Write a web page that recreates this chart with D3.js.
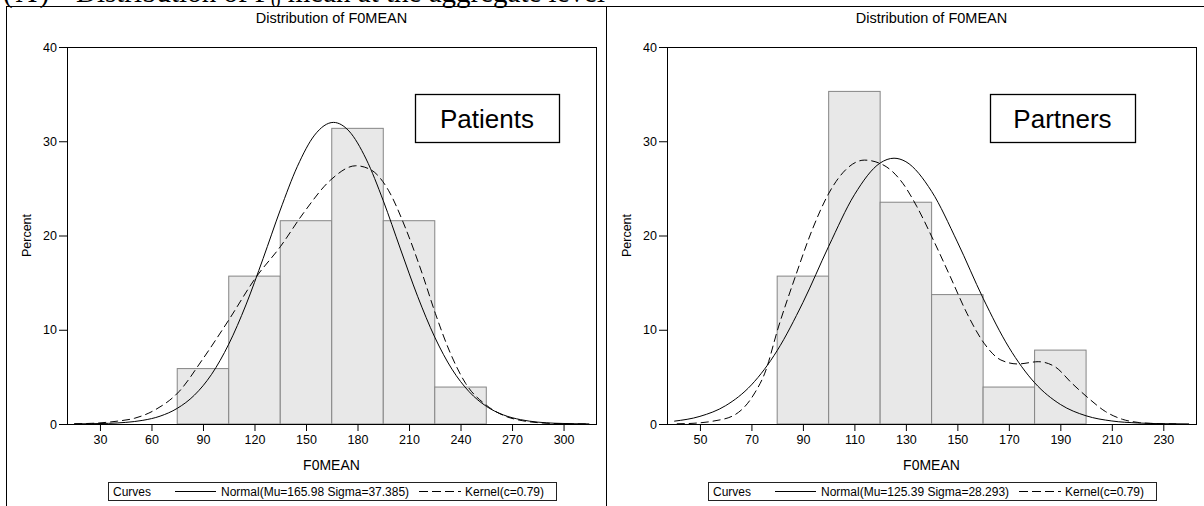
<!DOCTYPE html>
<html>
<head>
<meta charset="utf-8">
<script src="https://cdn.jsdelivr.net/npm/d3@7"></script>
<style>
  body { margin: 0; background: #fff; }
  svg { display: block; font-family: "Liberation Sans", Arial, sans-serif; }
</style>
</head>
<body>
<svg id="chart" width="1204" height="506"></svg>
<script>
// histogram bins (edges) and percent per bin
const patientEdges = [75, 105, 135, 165, 195, 225, 255];
const patientPct = [5.88, 15.69, 21.57, 31.37, 21.57, 3.92];
const partnerEdges = [80, 100, 120, 140, 160, 180, 200];
const partnerPct = [15.69, 35.29, 23.53, 13.73, 3.92, 7.84];

// fitted normal curves (solid)
const patientNormalX = [15, 25, 35, 45, 55, 65, 75, 85, 95, 105, 115, 125, 135, 145, 155, 166, 175, 185, 195, 205, 215, 225, 235, 245, 255, 265, 275, 285, 295, 305, 315];
const patientNormalY = [0.01, 0.03, 0.07, 0.17, 0.39, 0.83, 1.66, 3.06, 5.27, 8.47, 12.63, 17.55, 22.7, 27.34, 30.65, 32.0, 31.09, 28.12, 23.69, 18.57, 13.55, 9.21, 5.82, 3.43, 1.88, 0.96, 0.46, 0.2, 0.08, 0.03, 0.01];
const partnerNormalX = [40, 50, 60, 70, 80, 90, 100, 110, 120, 125.4, 130, 140, 150, 160, 170, 180, 190, 200, 210, 220, 230, 240];
const partnerNormalY = [0.3, 0.81, 1.95, 4.15, 7.79, 12.89, 18.85, 24.32, 27.69, 28.2, 27.83, 24.68, 19.32, 13.34, 8.14, 4.38, 2.08, 0.87, 0.32, 0.11, 0.03, 0.01];

// kernel density curves (dashed)
const patientKernelX = [15, 30, 40, 50, 62, 76, 89.5, 105, 121, 135, 148.6, 164.4, 179, 188, 198, 207.7, 217.6, 225.4, 233.3, 243, 255, 266.8, 276, 286.5, 300, 315];
const patientKernelY = [0.02, 0.12, 0.3, 0.6, 1.49, 3.43, 6.79, 11.03, 15.6, 18.8, 22.4, 25.9, 27.4, 26.95, 24.8, 20.9, 16.0, 11.7, 7.85, 4.3, 2.0, 0.78, 0.35, 0.12, 0.03, 0.01];
const partnerKernelX = [41, 47.7, 55, 63.4, 71.3, 75.2, 80.5, 87, 93.6, 100.1, 106.7, 113.9, 121.1, 128.9, 134.2, 140.7, 147.3, 153.8, 160.4, 166.9, 173.5, 181.4, 187.9, 194.5, 201, 207.6, 214.1, 220.7, 227, 235];
const partnerKernelY = [0.02, 0.08, 0.3, 0.95, 3.3, 5.4, 10.3, 15.6, 20.6, 24.5, 27.0, 28.0, 27.5, 25.5, 23.1, 19.5, 15.6, 11.7, 8.56, 6.79, 6.37, 6.61, 6.08, 4.32, 2.72, 1.31, 0.5, 0.15, 0.05, 0.01];

// axis ticks and labels
const patientTicks = [30, 60, 90, 120, 150, 180, 210, 240, 270, 300];
const partnerTicks = [50, 70, 90, 110, 130, 150, 170, 190, 210, 230];
const percentTicks = [0, 10, 20, 30, 40];
const titleText = 'Distribution of F0MEAN';
const xLabel = 'F0MEAN';
const yLabel = 'Percent';
const kernelLabel = 'Kernel(c=0.79)';

const panels = [
  {
    name: 'Patients', edges: patientEdges, pct: patientPct,
    nx: patientNormalX, ny: patientNormalY, kx: patientKernelX, ky: patientKernelY,
    ticks: patientTicks, domain: [10.8, 318.9],
    normalLabel: 'Normal(Mu=165.98 Sigma=37.385)',
    offset: 0, box: [415, 559]
  },
  {
    name: 'Partners', edges: partnerEdges, pct: partnerPct,
    nx: partnerNormalX, ny: partnerNormalY, kx: partnerKernelX, ky: partnerKernelY,
    ticks: partnerTicks, domain: [37.2, 242.7],
    normalLabel: 'Normal(Mu=125.39 Sigma=28.293)',
    offset: 600, box: [390, 535]
  }
];

const plot = { left: 67, right: 596, top: 47, bottom: 424 };

const svg = d3.select('#chart');

// heading of the figure, mostly cut off by the top edge as in the source
const head = svg.append('text')
  .attr('y', 2)
  .attr('font-family', '"Liberation Serif", "Times New Roman", serif')
  .attr('font-size', 29)
  .attr('fill', '#000');
head.append('tspan').attr('x', 3).attr('letter-spacing', 3).text('(A)');
head.append('tspan').attr('x', 76).text('Distribution of F');
head.append('tspan').attr('font-size', 19).attr('dy', 5).text('0');
head.append('tspan').attr('dy', -5).text(' mean at the aggregate level');

// outer frame lines
svg.append('line').attr('x1', 6).attr('x2', 1204).attr('y1', 6.5).attr('y2', 6.5).attr('stroke', '#000');
svg.append('line').attr('x1', 6.5).attr('x2', 6.5).attr('y1', 6).attr('y2', 506).attr('stroke', '#000');
svg.append('line').attr('x1', 606.5).attr('x2', 606.5).attr('y1', 6).attr('y2', 506).attr('stroke', '#000');

panels.forEach((p) => {
  const g = svg.append('g').attr('transform', `translate(${p.offset},0)`);

  const x = d3.scaleLinear().domain(p.domain).range([plot.left, plot.right]);
  const y = d3.scaleLinear().domain([0, 40]).range([plot.bottom, plot.top]);

  // bars
  const bins = p.pct.map((v, i) => ({ x0: p.edges[i], x1: p.edges[i + 1], v }));
  g.append('g')
    .selectAll('rect')
    .data(bins)
    .join('rect')
      .attr('x', (d) => x(d.x0))
      .attr('y', (d) => y(d.v))
      .attr('width', (d) => x(d.x1) - x(d.x0))
      .attr('height', (d) => y(0) - y(d.v))
      .attr('fill', '#e8e8e8')
      .attr('stroke', '#858585')
      .attr('stroke-width', 1);

  // curves
  const line = d3.line()
    .x((d) => x(d[0]))
    .y((d) => y(d[1]))
    .curve(d3.curveMonotoneX);

  g.append('path')
    .datum(p.nx.map((v, i) => [v, p.ny[i]]))
    .attr('d', line)
    .attr('fill', 'none')
    .attr('stroke', '#000')
    .attr('stroke-width', 1);

  g.append('path')
    .datum(p.kx.map((v, i) => [v, p.ky[i]]))
    .attr('d', line)
    .attr('fill', 'none')
    .attr('stroke', '#000')
    .attr('stroke-width', 1)
    .attr('stroke-dasharray', '8,4');

  // plot frame
  g.append('rect')
    .attr('x', plot.left + 0.5)
    .attr('y', plot.top + 0.5)
    .attr('width', plot.right - plot.left)
    .attr('height', plot.bottom - plot.top)
    .attr('fill', 'none')
    .attr('stroke', '#000');

  // axes
  const xAxis = g.append('g')
    .attr('transform', `translate(0,${plot.bottom})`)
    .call(d3.axisBottom(x).tickValues(p.ticks).tickSize(7).tickPadding(4));
  const yAxis = g.append('g')
    .attr('transform', `translate(${plot.left},0)`)
    .call(d3.axisLeft(y).tickValues(percentTicks).tickSize(8).tickPadding(2));

  [xAxis, yAxis].forEach((a) => {
    a.select('.domain').remove();
    a.selectAll('line').attr('stroke', '#000');
    a.selectAll('text')
      .attr('fill', '#000')
      .attr('font-size', 12.5)
      .attr('font-family', '"Liberation Sans", Arial, sans-serif');
  });

  const cx = (plot.left + plot.right) / 2;

  // titles and axis labels
  g.append('text')
    .attr('x', cx).attr('y', 23)
    .attr('text-anchor', 'middle')
    .attr('font-size', 14.5)
    .text(titleText);

  g.append('text')
    .attr('x', cx).attr('y', 470)
    .attr('text-anchor', 'middle')
    .attr('font-size', 14)
    .text(xLabel);

  g.append('text')
    .attr('transform', `translate(31,${(plot.top + plot.bottom) / 2}) rotate(-90)`)
    .attr('text-anchor', 'middle')
    .attr('font-size', 12.5)
    .text(yLabel);

  // group label box
  g.append('rect')
    .attr('x', p.box[0] + 0.5).attr('y', 94.5)
    .attr('width', p.box[1] - p.box[0]).attr('height', 48)
    .attr('fill', '#fff')
    .attr('stroke', '#000')
    .attr('stroke-width', 1.3);
  g.append('text')
    .attr('x', (p.box[0] + p.box[1]) / 2).attr('y', 128)
    .attr('text-anchor', 'middle')
    .attr('font-size', 26)
    .text(p.name);

  // legend
  const lg = g.append('g').attr('font-size', 12);
  lg.append('rect')
    .attr('x', 108.5).attr('y', 482.5)
    .attr('width', 448).attr('height', 18)
    .attr('fill', '#fff')
    .attr('stroke', '#222');
  lg.append('text').attr('x', 113).attr('y', 496).text('Curves');
  lg.append('line')
    .attr('x1', 175).attr('x2', 216).attr('y1', 491.5).attr('y2', 491.5)
    .attr('stroke', '#000');
  lg.append('text').attr('x', 221).attr('y', 496).text(p.normalLabel);
  lg.append('line')
    .attr('x1', 419).attr('x2', 461).attr('y1', 491.5).attr('y2', 491.5)
    .attr('stroke', '#000')
    .attr('stroke-dasharray', '9,4');
  lg.append('text').attr('x', 465).attr('y', 496).text(kernelLabel);
});
</script>
</body>
</html>
